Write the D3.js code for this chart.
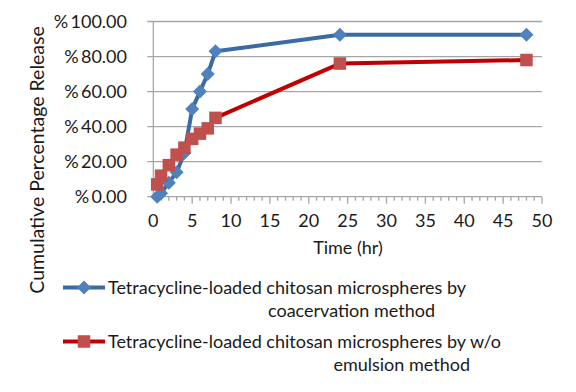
<!DOCTYPE html>
<html>
<head>
<meta charset="utf-8">
<script src="https://cdn.jsdelivr.net/npm/d3@7"></script>
<style>
  body { margin: 0; background: #fff; }
  text { font-family: Lato, "Liberation Sans", sans-serif; fill: #1a1a1a; }
</style>
</head>
<body>
<svg id="chart" width="576" height="392"></svg>
<script>
const hours = [0.5, 1, 2, 3, 4, 5, 6, 7, 8, 24, 48];
const coacervation = [0, 2, 8, 14, 25, 50, 60, 70, 83, 92.4, 92.4];
const emulsion = [7, 12, 18, 24, 28, 33, 36, 39, 45, 76, 78];
const yTicks = [0, 20, 40, 60, 80, 100];
const xTicks = [0, 5, 10, 15, 20, 25, 30, 35, 40, 45, 50];
const seriesNames = [
  ['Tetracycline-loaded chitosan microspheres by', 'coacervation method'],
  ['Tetracycline-loaded chitosan microspheres by w/o', 'emulsion method']
];

const draw = () => {
  let
    svg = d3.select('#chart'),
    xScale = d3.scaleLinear().domain([0, 50]).range([153.3, 542]),
    yScale = d3.scaleLinear().domain([0, 100]).range([196.7, 21.5]),
    grid = svg.append('g').attr('class', 'grid'),
    fmt = v => '%\u2009' + d3.format('.2f')(v),
    series = [
      {id: 'coac', values: coacervation, line: '#3c6aa2', fill: '#4f81bd', shape: d3.symbolDiamond2, size: 125},
      {id: 'emul', values: emulsion, line: '#c00000', fill: '#c0504d', shape: d3.symbolSquare2, size: 200}
    ]
    ;

  // horizontal gridlines + tick stubs on the left
  grid.selectAll('line.h')
    .data(yTicks)
    .enter().append('line')
    .attr('class', 'h')
    .attr('x1', xScale(0) - 6).attr('x2', xScale(50))
    .attr('y1', d => yScale(d)).attr('y2', d => yScale(d))
    .attr('stroke', '#a6a6a6').attr('stroke-width', 1.3)
  ;
  grid.append('line')
    .attr('x1', xScale(0)).attr('x2', xScale(0))
    .attr('y1', yScale(100)).attr('y2', yScale(0))
    .attr('stroke', '#a6a6a6').attr('stroke-width', 1.3)
  ;
  // x ticks, minor every hour
  grid.selectAll('line.xt')
    .data(d3.range(1, 51))
    .enter().append('line')
    .attr('class', 'xt')
    .attr('x1', d => xScale(d)).attr('x2', d => xScale(d))
    .attr('y1', yScale(0)).attr('y2', d => yScale(0) + (d % 5 ? 4 : 7))
    .attr('stroke', '#a6a6a6').attr('stroke-width', 1.3)
  ;

  svg.append('g').selectAll('text')
    .data(yTicks)
    .enter().append('text')
    .attr('x', 127).attr('y', d => yScale(d))
    .attr('dy', '0.36em')
    .attr('text-anchor', 'end')
    .style('font-size', '18px')
    .text(fmt)
  ;
  svg.append('g').selectAll('text')
    .data(xTicks)
    .enter().append('text')
    .attr('x', d => xScale(d)).attr('y', 227)
    .attr('text-anchor', 'middle')
    .style('font-size', '18px')
    .text(d => d)
  ;
  svg.append('text')
    .attr('x', 348).attr('y', 254)
    .attr('text-anchor', 'middle')
    .style('font-size', '18px')
    .text('Time (hr)')
  ;
  svg.append('text')
    .attr('transform', 'translate(44,160) rotate(-90)')
    .attr('text-anchor', 'middle')
    .style('font-size', '19.5px')
    .text('Cumulative Percentage Release')
  ;

  let line = d3.line().x((d, i) => xScale(hours[i])).y(d => yScale(d));

  series.forEach(s => {
    let g = svg.append('g').attr('class', s.id);
    g.append('path')
      .attr('d', line(s.values))
      .attr('fill', 'none')
      .attr('stroke', s.line)
      .attr('stroke-width', 4)
      .attr('stroke-linejoin', 'round')
    ;
    g.selectAll('path.m')
      .data(s.values)
      .enter().append('path')
      .attr('class', 'm')
      .attr('d', d3.symbol().type(s.shape).size(s.size))
      .attr('transform', (d, i) => `translate(${xScale(hours[i])},${yScale(d)})`)
      .attr('fill', s.fill)
    ;
  });

  // legend
  let legend = svg.append('g').attr('class', 'legend');
  series.forEach((s, i) => {
    let
      y = 287.5 + i * 54,
      right = i ? 470 : 435,
      row = legend.append('g')
      ;
    row.append('line')
      .attr('x1', 63).attr('x2', 105)
      .attr('y1', y).attr('y2', y)
      .attr('stroke', s.line).attr('stroke-width', 4)
    ;
    row.append('path')
      .attr('d', d3.symbol().type(s.shape).size(s.size))
      .attr('transform', `translate(84,${y})`)
      .attr('fill', s.fill)
    ;
    row.append('text')
      .attr('x', 108).attr('y', y).attr('dy', '0.36em')
      .style('font-size', '18px')
      .text(seriesNames[i][0])
    ;
    row.append('text')
      .attr('x', right).attr('y', y + 23.5).attr('dy', '0.36em')
      .attr('text-anchor', 'end')
      .style('font-size', '18px')
      .text(seriesNames[i][1])
    ;
  });
};

draw();
</script>
</body>
</html>
